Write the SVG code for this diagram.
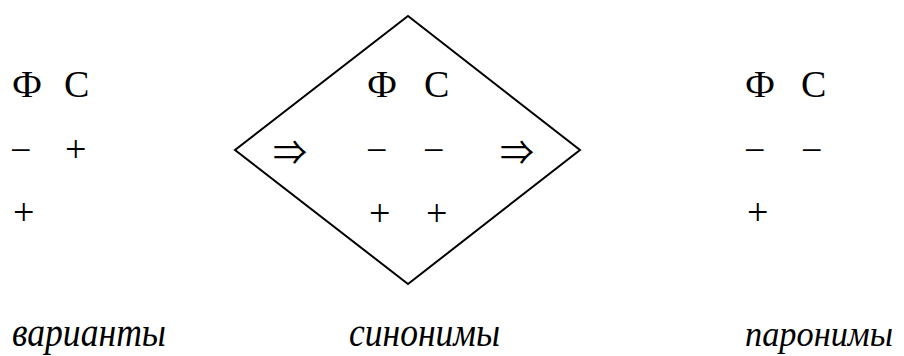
<svg xmlns="http://www.w3.org/2000/svg" width="904" height="356" viewBox="0 0 904 356">
<style>
.t{font-family:"Liberation Serif","Times New Roman",serif;font-size:38px;fill:#000}
.a{font-family:"Noto Sans CJK JP","DejaVu Serif",serif;font-size:34px;fill:#000}
.i{font-family:"Liberation Serif","Times New Roman",serif;font-size:39px;font-style:italic;fill:#000}
.d{fill:none;stroke:#000;stroke-width:2}
</style>
<rect width="904" height="356" fill="#fff"/>
<g id="variants">
<text class="t" x="12" y="97">Ф</text>
<text class="t" x="64" y="97">С</text>
<text class="t" x="10" y="163">−</text>
<text class="t" x="65" y="162">+</text>
<text class="t" x="13" y="225">+</text>
<text class="i" x="12" y="346" textLength="154" lengthAdjust="spacingAndGlyphs">варианты</text>
</g>
<g id="synonyms">
<polygon class="d" points="408,16 580,150 408,284 235,150"/>
<text class="t" x="367" y="97">Ф</text>
<text class="t" x="424" y="97">С</text>
<text class="a" x="273" y="165">⇒</text>
<text class="t" x="366" y="163">−</text>
<text class="t" x="423" y="163">−</text>
<text class="a" x="500" y="165">⇒</text>
<text class="t" x="369" y="226">+</text>
<text class="t" x="426" y="226">+</text>
<text class="i" x="349" y="346" textLength="151" lengthAdjust="spacingAndGlyphs">синонимы</text>
</g>
<g id="paronyms">
<text class="t" x="745" y="97">Ф</text>
<text class="t" x="801" y="97">С</text>
<text class="t" x="744" y="163">−</text>
<text class="t" x="801" y="163">−</text>
<text class="t" x="747" y="225">+</text>
<text class="i" x="745" y="346" style="font-size:36px" textLength="148" lengthAdjust="spacingAndGlyphs">паронимы</text>
</g>
<g id="connectors"/>
</svg>
